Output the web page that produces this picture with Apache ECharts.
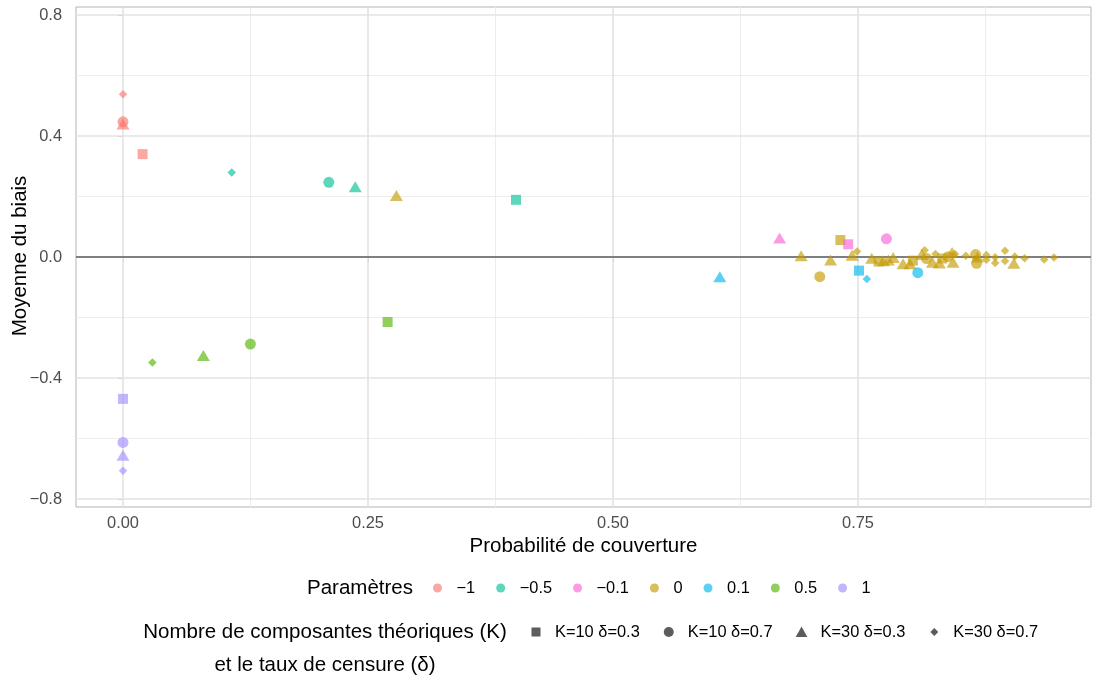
<!DOCTYPE html>
<html><head><meta charset="utf-8">
<script src="https://cdn.jsdelivr.net/npm/echarts@6/dist/echarts.min.js"></script>
<style>html,body{margin:0;padding:0;background:#fff}#c{width:1096px;height:682px}</style>
</head><body><div id="c"></div><script>
// Legend / category labels
const paramNames = ['−1', '−0.5', '−0.1', '0', '0.1', '0.5', '1'];
const shapeNames = ['K=10 δ=0.3', 'K=10 δ=0.7', 'K=30 δ=0.3', 'K=30 δ=0.7'];
// Tick values
const xTicks = [0, 0.25, 0.5, 0.75];
const xMinor = [0.125, 0.375, 0.625, 0.875];
const yTicks = [-0.8, -0.4, 0, 0.4, 0.8];
const yMinor = [-0.6, -0.2, 0.2, 0.6];
// Points: [probabilité de couverture, moyenne du biais, shape index (0 K10δ.3, 1 K10δ.7, 2 K30δ.3, 3 K30δ.7)]
const ptsM1 = [[0.000, 0.447, 1], [0.000, 0.440, 2], [0.020, 0.340, 0], [0.000, 0.538, 3]];
const ptsM05 = [[0.111, 0.279, 3], [0.210, 0.247, 1], [0.237, 0.232, 2], [0.401, 0.189, 0]];
const ptsM01 = [[0.670, 0.063, 2], [0.740, 0.042, 0], [0.779, 0.060, 1]];
const pts0 = [
  [0.279, 0.203, 2], [0.692, 0.004, 2], [0.711, -0.065, 1], [0.722, -0.010, 2], [0.732, 0.056, 0],
  [0.744, 0.006, 2], [0.749, 0.018, 3], [0.764, -0.004, 2], [0.771, -0.015, 0], [0.776, -0.012, 2],
  [0.781, -0.010, 2], [0.786, -0.002, 2], [0.796, -0.022, 2], [0.803, -0.022, 2], [0.806, -0.012, 0],
  [0.815, 0.008, 2], [0.818, 0.022, 3], [0.820, -0.005, 1], [0.826, -0.017, 2], [0.829, 0.010, 3],
  [0.833, -0.020, 2], [0.836, -0.005, 0], [0.842, 0.001, 1], [0.846, 0.015, 2], [0.847, -0.017, 2],
  [0.849, 0.010, 3], [0.860, 0.004, 3], [0.870, 0.008, 1], [0.871, -0.021, 1], [0.872, 0.000, 2],
  [0.881, 0.007, 3], [0.881, -0.009, 3], [0.890, -0.001, 3], [0.890, -0.020, 3], [0.900, 0.021, 3],
  [0.900, -0.013, 3], [0.909, -0.021, 2], [0.910, 0.002, 3], [0.920, -0.004, 3], [0.940, -0.008, 3],
  [0.950, -0.002, 3]
];
const pts01 = [[0.609, -0.065, 2], [0.751, -0.045, 0], [0.759, -0.073, 3], [0.811, -0.052, 1]];
const pts05 = [[0.030, -0.349, 3], [0.082, -0.326, 2], [0.130, -0.288, 1], [0.270, -0.215, 0]];
const pts1 = [[0.000, -0.469, 0], [0.000, -0.613, 1], [0.000, -0.655, 2], [0.000, -0.707, 3]];

const paramData = [ptsM1, ptsM05, ptsM01, pts0, pts01, pts05, pts1];
const paramColors = ['rgba(248,118,109,0.8)', 'rgba(0,192,148,0.8)', 'rgba(251,97,215,0.8)',
  'rgba(196,154,0,0.8)', 'rgba(0,182,235,0.8)', 'rgba(83,180,0,0.8)', 'rgba(165,138,255,0.8)'];
const drawOrder = [3, 0, 1, 6, 5, 4, 2];

const symbols = ['rect', 'circle', 'triangle', 'diamond'];
const symbolSizes = [10, 11, [13, 11], 8.5];
const legendIcons = [
  'path://M0,0M12,12M1.5,1.5L10.5,1.5L10.5,10.5L1.5,10.5Z',
  'path://M0,0M12,12M6,1A5,5,0,1,1,6,11A5,5,0,1,1,6,1Z',
  'path://M0,0M12,12M6,0.5L11.8,11L0.2,11Z',
  'path://M0,0M12,12M6,2L10,6L6,10L2,6Z'
];
const FONT = 'Liberation Sans';

const xMin = -47 / 980, xMax = 968 / 980;
const yLim = 250 / 302.5;

const fmtMinus = (v, d) => (v < -1e-9 ? '−' : '') + Math.abs(v).toFixed(d);

const series = [];
// grid lines and zero line
series.push({
  type: 'scatter', data: [], silent: true, z: 1,
  markLine: {
    z: 1, silent: true, symbol: ['none', 'none'], label: { show: false }, animation: false,
    data: [
      ...xMinor.map(v => ({ xAxis: v, lineStyle: { color: '#EDEDED', width: 1, type: 'solid' } })),
      ...yMinor.map(v => ({ yAxis: v, lineStyle: { color: '#EDEDED', width: 1, type: 'solid' } })),
      ...xTicks.map(v => ({ xAxis: v, lineStyle: { color: '#E3E3E3', width: 1.6, type: 'solid' } })),
      ...yTicks.map(v => ({ yAxis: v, lineStyle: { color: '#E3E3E3', width: 1.6, type: 'solid' } }))
    ]
  }
});
series.push({
  type: 'scatter', data: [], silent: true, z: 2,
  markLine: {
    z: 2, silent: true, symbol: ['none', 'none'], label: { show: false }, animation: false,
    data: [{ yAxis: 0, lineStyle: { color: '#7F7F7F', width: 2, type: 'solid' } }]
  }
});
// data points
drawOrder.forEach(i => {
  series.push({
    name: 'p' + i, type: 'scatter', z: 3,
    data: paramData[i],
    symbol: v => symbols[v[2]],
    symbolSize: v => symbolSizes[v[2]],
    itemStyle: { color: paramColors[i] },
    emphasis: { disabled: true }
  });
});
// legend-only series
paramNames.forEach((n, i) => series.push({ name: n, type: 'scatter', data: [], itemStyle: { color: paramColors[i] } }));
shapeNames.forEach((n) => series.push({ name: n, type: 'scatter', data: [], itemStyle: { color: 'rgba(0,0,0,0.8)' } }));

const chart = echarts.init(document.getElementById('c'), null, { renderer: 'canvas' });
chart.setOption({
  animation: false,
  backgroundColor: '#fff',
  textStyle: { fontFamily: FONT },
  grid: { left: 76, top: 7, width: 1015, height: 500, outerBoundsMode: 'none', containLabel: false,
    show: true, borderColor: '#B3B3B3', borderWidth: 1, backgroundColor: 'transparent' },
  xAxis: {
    type: 'value', min: xMin, max: xMax,
    name: 'Probabilité de couverture', nameLocation: 'middle', nameGap: 28,
    nameTextStyle: { fontSize: 20.5, color: '#000', fontFamily: FONT },
    axisLine: { show: false },
    axisTick: { show: true, customValues: xTicks, length: 5, lineStyle: { color: '#B3B3B3', width: 1 } },
    axisLabel: { customValues: xTicks, formatter: v => fmtMinus(v, 2), fontSize: 16.4, color: '#4D4D4D', margin: 8, fontFamily: FONT },
    splitLine: { show: false }
  },
  yAxis: {
    type: 'value', min: -yLim, max: yLim,
    axisLine: { show: false },
    axisTick: { show: true, customValues: yTicks, length: 5, lineStyle: { color: '#B3B3B3', width: 1 } },
    axisLabel: { customValues: yTicks, formatter: v => fmtMinus(v, 1), fontSize: 16.4, color: '#4D4D4D', margin: 14, fontFamily: FONT },
    splitLine: { show: false }
  },
  legend: [
    {
      left: 433, top: 580, padding: 0, itemWidth: 28, itemHeight: 9, itemGap: 21,
      icon: 'circle', selectedMode: false,
      textStyle: { fontSize: 16.4, color: '#000', fontFamily: FONT },
      data: paramNames
    },
    {
      left: 530, top: 624, padding: 0, itemWidth: 28, itemHeight: 12, itemGap: 23,
      selectedMode: false, symbolKeepAspect: true,
      textStyle: { fontSize: 16.4, color: '#000', fontFamily: FONT },
      data: shapeNames.map((n, i) => ({ name: n, icon: legendIcons[i] }))
    }
  ],
  graphic: [
    { type: 'text', x: 20, y: 256, rotation: Math.PI / 2, silent: true,
      style: { text: 'Moyenne du biais', align: 'center', verticalAlign: 'middle', fontSize: 20.5, fontFamily: FONT, fill: '#000' } },
    { type: 'text', x: 413, y: 588, silent: true,
      style: { text: 'Paramètres', align: 'right', verticalAlign: 'middle', fontSize: 20.5, fontFamily: FONT, fill: '#000' } },
    { type: 'text', x: 325, y: 648.5, silent: true,
      style: { text: 'Nombre de composantes théoriques (K)\net le taux de censure (δ)', align: 'center', verticalAlign: 'middle', lineHeight: 33, fontSize: 20.5, fontFamily: FONT, fill: '#000' } }
  ],
  series: series
});
</script></body></html>
